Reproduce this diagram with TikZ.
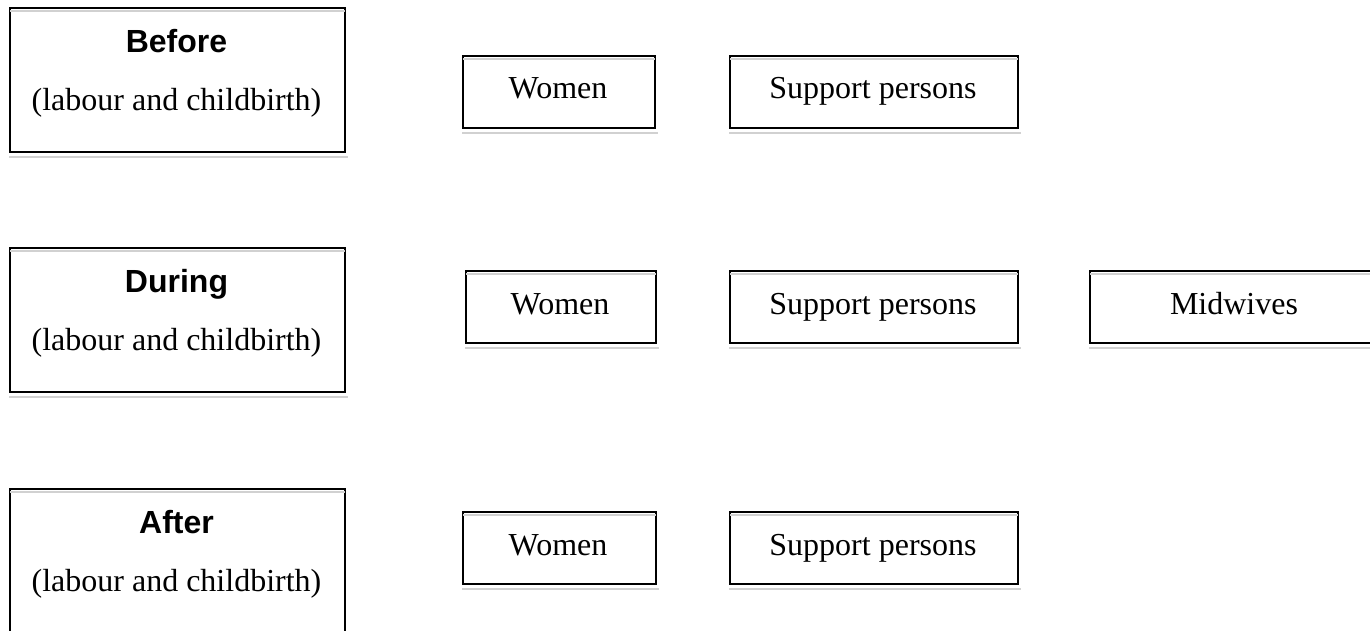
\documentclass[tikz,border=0pt]{standalone}
\usepackage{fontspec}
\setmainfont{Liberation Serif}
\newfontfamily\headfont{Liberation Sans}
\begin{document}
\begin{tikzpicture}[x=1pt,y=-1pt,
  box/.style={draw=black, line width=2.2pt, rectangle, inner sep=0pt,
    anchor=north west, minimum height=#1},
  box/.default=72pt,
  shadeline/.style={draw=black!18, line width=2pt},
  title/.style={anchor=base, font=\headfont\bfseries\fontsize{32}{38}\selectfont},
  sub/.style={anchor=base, font=\fontsize{32}{38}\selectfont},
  label/.style={anchor=base, font=\fontsize{32}{38}\selectfont}]
\useasboundingbox (0,0) rectangle (1370,630);

% phase boxes on the left
\node[box=144pt, minimum width=335pt] (before) at (9,7) {};
\node[box=144pt, minimum width=335pt] (during) at (9,247) {};
\node[box=144pt, minimum width=335pt] (after)  at (9,488) {};

\node[title] (tbefore) at (176.5,52) {Before};
\node[sub]   (sbefore) at (176.5,110) {(labour and childbirth)};
\node[title] (tduring) at (176.5,292) {During};
\node[sub]   (sduring) at (176.5,350) {(labour and childbirth)};
\node[title] (tafter)  at (176.5,533) {After};
\node[sub]   (safter)  at (176.5,591) {(labour and childbirth)};

% participant boxes, row 1
\node[box, minimum width=192pt] (w1) at (462,55) {};
\node[box, minimum width=288pt] (s1) at (729,55) {};
\node[label] (lw1) at (558,98) {Women};
\node[label] (ls1) at (873,98) {Support persons};

% row 2
\node[box, minimum width=190pt] (w2) at (465,270) {};
\node[box, minimum width=288pt] (s2) at (729,270) {};
\node[box, minimum width=284pt] (m2) at (1089,270) {};
\node[label] (lw2) at (560,314) {Women};
\node[label] (ls2) at (873,314) {Support persons};
\node[label] (lm2) at (1234,314) {Midwives};

% row 3
\node[box, minimum width=193pt] (w3) at (462,511) {};
\node[box, minimum width=288pt] (s3) at (729,511) {};
\node[label] (lw3) at (558,555) {Women};
\node[label] (ls3) at (873,555) {Support persons};

% light rule inside the top edge and under the bottom edge of each box
\foreach \b in {before,during,after,w1,s1,w2,s2,m2,w3,s3}{
  \draw[shadeline] ([xshift=1.2pt,yshift=-4pt]\b.north west) -- ([xshift=-1.2pt,yshift=-4pt]\b.north east);
  \draw[shadeline] ([yshift=-3.5pt]\b.south west) -- ([xshift=2pt,yshift=-3.5pt]\b.south east);
}
\end{tikzpicture}
\end{document}
